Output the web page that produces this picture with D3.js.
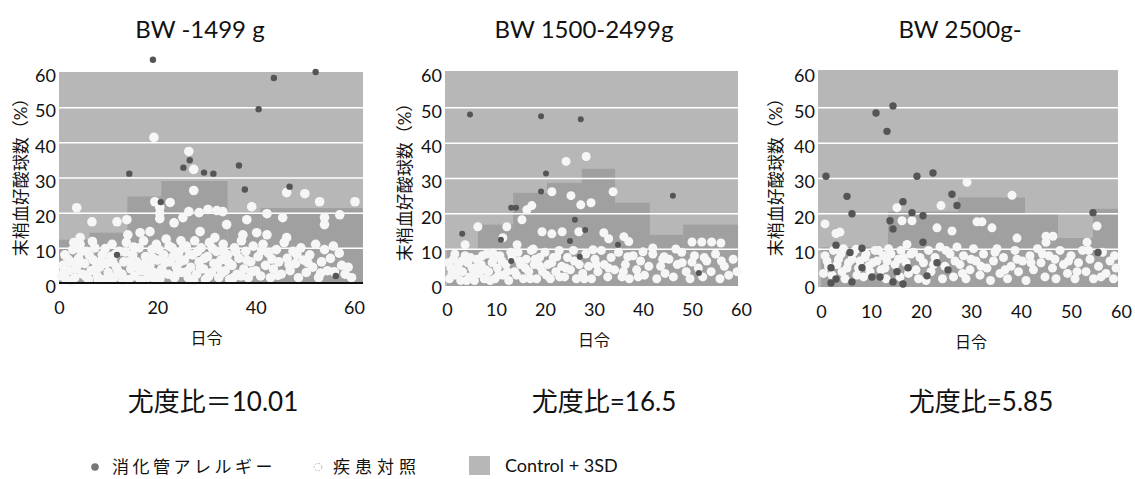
<!DOCTYPE html>
<html>
<head>
<meta charset="utf-8">
<title>末梢血好酸球数</title>
<script src="https://d3js.org/d3.v7.min.js"></script>
<style>
body { margin: 0; background: #fff; }
text { font-family: Lato, "Noto Sans CJK JP", sans-serif; fill: #111; }
.grid line { stroke: #fff; stroke-width: 1.5; }
.ax text { font-size: 18px; }
</style>
</head>
<body>
<div id="chart"></div>
<script>

// panel titles and likelihood ratios
var titles = ["BW -1499 g", "BW 1500-2499g", "BW 2500g-"];
var ratios = ["尤度比＝10.01", "尤度比=16.5", "尤度比=5.85"];
var yTicks = [0, 10, 20, 30, 40, 50, 60];
var xTicks1 = [0, 20, 40, 60];
var xTicks23 = [0, 10, 20, 30, 40, 50, 60];

// Control + 3SD bands: [start day, end day, %]
var band1 = [[0, 6.2, 12.3], [6.2, 13.9, 14.3], [13.9, 20.8, 24.6], [20.8, 34.3, 29], [34.3, 41, 20], [41, 61.8, 21.3]];
var band2 = [[0, 6.3, 9.8], [6.3, 13.5, 16.8], [13.5, 20.4, 25.8], [20.4, 27.5, 28.6], [27.5, 34.3, 32.6], [34.3, 41.4, 23], [41.4, 48.2, 13.9], [48.2, 59.4, 16.8]];
var band3 = [[0, 13.4, 10.4], [13.4, 27.4, 20.5], [27.4, 40.8, 24.5], [40.8, 47.4, 19.9], [47.4, 54.4, 13], [54.4, 59.4, 21.3]];

// 消化管アレルギー: [day, %]
var allergy1 = [[19.1, 63.5], [43.7, 58.3], [52.2, 60], [40.6, 49.4], [14.3, 31.1], [25.3, 32.8], [26.6, 34.9], [29.5, 31.4],
  [31.4, 31.1], [36.6, 33.4], [37.8, 26.6], [46.9, 27.4], [11.8, 8], [56.3, 2], [20.7, 23]];
var allergy2 = [[4.7, 48], [19.2, 47.5], [27.3, 46.6], [20.2, 31.3], [19.2, 26.2], [13.1, 21.6], [14.1, 21.6], [3.1, 14.2],
  [11, 12.5], [26.1, 18.2], [28.2, 15.3], [25.1, 12.2], [13.1, 6.5], [27.1, 7.7], [34.9, 11.1], [46.1, 25], [51.4, 3.1]];
var allergy3 = [[1, 30.5], [11, 48.4], [14.4, 50.4], [13.2, 43.2], [5.2, 24.8], [6.2, 19.9], [3, 11], [8.2, 10.1], [5.8, 8.9],
  [2, 4.6], [8.2, 4.6], [3, 1.4], [2, 0.3], [6.2, 0.6], [10.2, 2], [11.8, 2], [14.4, 0.6], [16.4, 0], [15.2, 3.5], [17.4, 4.6],
  [16.4, 23.3], [13.8, 17.9], [14.4, 15.6], [19.2, 30.5], [22.4, 31.4], [18.2, 20.2], [20.4, 19.3], [20.4, 11.8], [26.2, 25.4],
  [27.2, 22.2], [23.2, 6], [25.4, 4], [21.2, 2.3], [54.4, 20.2], [55.4, 8.9]];

// 疾患対照: [day, %]
var control1 = [[19.3, 41.4], [26.4, 37.4], [27.4, 32.3], [27.4, 26.3], [3.6, 21.4], [6.7, 17.4], [11.8, 17.4], [13.8, 18],
  [19.5, 23.1], [22.6, 22.9], [20.5, 21.5], [20.5, 19.8], [20.5, 18.3], [23.4, 17.1], [25.2, 18.6], [26.4, 20.3], [28.5, 20],
  [30.3, 20.9], [32.1, 20.6], [33.3, 20.3], [34.1, 16.6], [38.2, 18], [39.2, 21.7], [42.3, 19.7], [45.5, 18.6], [46.3, 25.7],
  [50, 25.4], [53, 23.1], [57.1, 19.4], [60.2, 23.1], [54, 18.6], [54, 16.6], [40.2, 14.3], [42.3, 13.7], [46.3, 12.9],
  [37.4, 13.7], [28.7, 14.6], [31.7, 12.9], [4.3, 12.9], [14, 13.7], [16.5, 14.3], [18.5, 14.6],
  [0.5, 2], [0.8, 5], [1.2, 8], [1.5, 1], [2, 3.5], [2.4, 6], [2.8, 9.5], [3.2, 1.5], [3.5, 4], [4, 7], [4.3, 11], [4.8, 2.5], [5.2, 5.5],
  [5.6, 9], [6, 1], [6.5, 3.5], [7, 6.5], [7.3, 10], [7.8, 2], [8.3, 4.5], [8.8, 8], [9.2, 1], [9.6, 5.5], [10, 3],
  [10.5, 7.5], [10.8, 11], [11.2, 1.5], [11.7, 4.5], [12.3, 9], [12.8, 2.5], [13.2, 6], [13.7, 11.5], [14.2, 1], [14.6, 4], [15, 8],
  [15.4, 2], [15.8, 6], [16.3, 10], [16.8, 3.5], [17.2, 12], [17.6, 7.5], [18, 1.5], [18.5, 5], [18.9, 9.5], [19.3, 3], [19.8, 11], [20, 6.5],
  [20.5, 1], [20.9, 4], [21.3, 8], [21.8, 12.5], [22.2, 2.5], [22.6, 6], [23, 10], [23.5, 1.5], [23.9, 4.5], [24.3, 8.5], [24.8, 12], [25, 3],
  [25.5, 6.5], [25.9, 10.5], [26.3, 1.5], [26.8, 4.5], [27.2, 8], [27.6, 12], [28, 2.5], [28.5, 6], [28.9, 10], [29.4, 4], [29.8, 1],
  [30.2, 7.5], [30.6, 11.5], [31, 3], [31.5, 5.5], [32, 9], [32.5, 1.5], [32.9, 6.5], [33.4, 11], [33.8, 3.5], [34.3, 8], [34.7, 1],
  [35.2, 5], [35.7, 10], [36.2, 2.5], [36.6, 7], [37.1, 12], [37.6, 4], [38, 9], [38.5, 1.5], [39, 6], [39.5, 10.5], [40, 3.5],
  [40.5, 7.5], [41, 2], [41.5, 11], [42, 5], [42.6, 8.5], [43, 1.5], [43.6, 4], [44.2, 9.5], [44.7, 6],
  [45.2, 2.5], [45.8, 11.5], [46.4, 7], [47, 3.5], [47.6, 9], [48.1, 5.5], [48.7, 1.5], [49.2, 10], [49.8, 6.5],
  [50.3, 3], [51, 8], [51.6, 4.5], [52.2, 11], [52.8, 1.5], [53.4, 6], [54, 9.5], [54.6, 3.5],
  [55.2, 7], [55.8, 10.5], [57.5, 5], [58.2, 2.5], [58.8, 4.5], [59.5, 1.5],
  [1, 3.2], [1.8, 6.8], [2.2, 0.5], [3, 11.5], [3.8, 5.2], [4.5, 9], [5.5, 1.8], [6.2, 7.8], [6.8, 11.8], [7.5, 4.2], [8, 0.8],
  [8.6, 6.2], [9.4, 9.8], [10.2, 1.2], [11, 5.8], [11.5, 8.2], [12, 3.2], [13, 0.6], [13.5, 8.8], [14.4, 6.2], [15.2, 10.2],
  [16, 4.5], [16.6, 0.8], [17.4, 5.5], [18.2, 3.5], [19, 7.2], [19.6, 0.8], [20.3, 9.5], [21, 2.5], [21.6, 5.8], [22.4, 10.5],
  [23.2, 7.5], [24, 2.8], [24.6, 6], [25.3, 10], [26, 3.2], [26.6, 8.2], [27.4, 0.6], [28.2, 9], [28.8, 4.2], [29.6, 7],
  [30.4, 1.8], [31.2, 9.8], [32.2, 4.5], [33.1, 2.8], [33.6, 8.6], [34.5, 5.8], [35.5, 1.5], [36, 8.8], [37, 2], [38.2, 6.5],
  [39.2, 3.2], [41.2, 9.2], [43.3, 6.8], [44.5, 2.2], [46.8, 5.2], [48.4, 8], [50.6, 5.8], [53.2, 2.8], [56, 3.2], [57, 8.5]];
var control2 = [[24.3, 34.7], [28.4, 36.1], [21.4, 26.1], [25.3, 25], [33.9, 26.1], [27.3, 22.4], [29.4, 23], [17.3, 22.2],
  [16.3, 21], [15.3, 18.2], [12.2, 16.2], [6.3, 16.2], [19.4, 14.8], [21.4, 14.2], [23.5, 14.8], [26.9, 14.8], [32, 14.5],
  [33, 12.8], [36.1, 13.4], [37.1, 12], [42, 10.2], [44.3, 7.7], [46.7, 9.9], [50, 11.9], [52, 11.9], [54, 11.9], [55.9, 11.6],
  [50, 6.2], [3.7, 11.1], [9.4, 8.8], [11.4, 13.1], [14.3, 11.1], [17.6, 9.9], [22.4, 7.7], [29.8, 9.7], [36.9, 7.7], [40, 9.1],
  [0.5, 1.5], [0.8, 4.5], [1.3, 7], [1.8, 2.5], [2.3, 5.5], [2.8, 1], [3.2, 3.5], [3.7, 8], [4.2, 6], [4.6, 2], [5.1, 4.5], [5.6, 1],
  [6, 7], [6.5, 3], [7, 5.5], [7.6, 1.5], [8.1, 8.5], [8.5, 3.5], [9.2, 6], [9.8, 1.5], [10.3, 4.5], [10.8, 8], [11.4, 2.5], [12, 5.5],
  [12.6, 1], [13.3, 7.5], [13.8, 3.5], [14.5, 9], [15, 5.5], [15.6, 1.5], [16.2, 7], [16.7, 3.5], [17.2, 9.5], [17.8, 5.5], [18.3, 1.5],
  [18.9, 7.5], [19.5, 3.5], [20, 9], [20.6, 5.5], [21.1, 1.5], [21.7, 7.5], [22.2, 3.5], [22.9, 9.5], [23.4, 5], [24, 2], [24.6, 7.5],
  [25.2, 4], [25.8, 9.5], [26.4, 1.5], [27, 5.5], [27.7, 3], [28.3, 8.5], [28.9, 5], [29.5, 1.5], [30.2, 7], [30.8, 3.5], [31.5, 9.5],
  [32.1, 5.5], [32.8, 2], [33.5, 7.5], [34.2, 4], [35, 9], [35.7, 2], [36.4, 5.5], [37.2, 1.5], [38, 8], [38.7, 4], [39.5, 6.5],
  [40.3, 2.5], [41.2, 5], [42, 8.5], [42.8, 1.5], [43.6, 5], [44.5, 3], [45.3, 7], [46.2, 2], [47, 5.5], [47.9, 9], [48.8, 3.5],
  [49.6, 1.5], [50.5, 8], [51.3, 4.5], [52.2, 2], [53, 6.5], [53.9, 3.5], [54.8, 8.5], [55.7, 1.5], [56.6, 5], [57.5, 2.5],
  [58.4, 7], [59.2, 3.5],
  [0.3, 6], [1, 3], [1.6, 8.5], [2.5, 4], [3, 6.5], [4, 1], [4.8, 7.5], [5.5, 3], [6.3, 5], [7.2, 8], [7.9, 4], [8.8, 1], [9.5, 7],
  [10.5, 2.5], [11.2, 6.5], [12.3, 3.5], [13, 9], [14.2, 2.5], [14.8, 6.5], [16, 4.5], [17, 1.5], [18, 7], [19, 5], [20.3, 2.5],
  [21.4, 6], [23, 2], [24.3, 4.5], [26, 6.5], [28, 1.5], [30.5, 5.5], [33, 4.5], [36, 3.5], [39, 2], [44, 7], [48, 6], [52.5, 7.5], [56, 6.5]];
var control3 = [[29.2, 28.8], [38.2, 25.1], [24, 22.2], [15.2, 21.6], [16.2, 17.9], [18.2, 17.9], [0.8, 17], [3.8, 14.7], [3, 14.3],
  [23.2, 15.9], [26.2, 15], [31.2, 17.6], [32.2, 17.6], [34.2, 15.9], [39.2, 13], [45, 13.5], [46.4, 13.5], [45, 11.8], [53.2, 11.8],
  [55.2, 16.4], [17.2, 11.2],
  [0.8, 8], [1.5, 5], [2.5, 9.5], [3.5, 7], [4.5, 10], [4.2, 3.5], [5.5, 6], [6.5, 9], [7.2, 2.5], [7.8, 6.5], [9, 8.5], [9.5, 5],
  [10.8, 9.5], [11.2, 6.5], [12.5, 8], [12.8, 4.5], [13.5, 10], [15.5, 7], [16, 9.5], [17, 6], [18.5, 9], [19, 4], [19.5, 1.5],
  [20.5, 6], [21.5, 9.5], [22, 3.5], [22.8, 7.5], [23.8, 10.5], [24.3, 1.5], [24.8, 5], [25.8, 8.5], [26.5, 2], [27.2, 10.5],
  [27.8, 5.5], [28.5, 8], [29, 1.5], [29.8, 4], [30.5, 10], [31, 6.5], [31.8, 2.5], [32.5, 8.5], [33.2, 4.5], [33.9, 1], [34.5, 6.5],
  [35.2, 10], [35.8, 3], [36.5, 7.5], [37.3, 1.5], [38, 5], [38.8, 9.5], [39.5, 3.5], [40.3, 6.5], [41, 1], [41.8, 8], [42.5, 4],
  [43.3, 10], [44, 6], [44.8, 2], [45.6, 8], [46.3, 4.5], [47, 1.5], [47.8, 9.5], [48.5, 5.5], [49.3, 3], [50, 8], [50.8, 1.5],
  [51.5, 6], [52.3, 9.5], [53, 3.5], [53.8, 7], [54.5, 1.5], [55.5, 5], [56.3, 9], [57, 3], [57.8, 6.5], [58.5, 1.5], [59, 4.5],
  [0.5, 3], [1.2, 6.5], [2.2, 2.5], [3.2, 5.5], [4, 8.5], [4.8, 1.5], [5.2, 4.5], [6.2, 7], [7, 9.8], [7.5, 4.5], [8.5, 2], [8.8, 7.5],
  [9.8, 3.5], [10.3, 6], [11.5, 9.5], [12, 4], [13, 1.5], [13.2, 6.5], [14, 8.5], [14.8, 5.5], [15.8, 2], [16.5, 7.5], [17.5, 3],
  [18, 8.5], [19.8, 7.5], [21, 1], [22.5, 5.5], [25, 9.5], [26.8, 6.5], [28.3, 3], [30, 7], [32, 5], [34.8, 9], [36.8, 4], [39.2, 7],
  [42, 6], [44.3, 8.5], [46.8, 7], [49.5, 6.5], [51.2, 3.5], [53.5, 9.5], [56, 2], [58.7, 8]];

var bg = "#b7b7b7", barColor = "#a0a0a0", darkDot = "#555", lightDot = "#f6f6f6";

// layout per panel (pixel positions of day 0 / day 60 and of the plot box)
var panels = [
  {title: titles[0], ratio: ratios[0], band: band1, allergy: allergy1, control: control1, xt: xTicks1,
   x0: 59, x60: 354, left: 59, right: 363, y0: 283, y60: 72, top: 72, bottom: 283, baseLine: true,
   cx: 200, ylab: 21, ylabY: 173, xlabY: 344, xtickY: 314, rw: 4.8, rd: 3.2},
  {title: titles[1], ratio: ratios[1], band: band2, allergy: allergy2, control: control2, xt: xTicks23,
   x0: 447, x60: 741, left: 445, right: 738, y0: 284, y60: 72, top: 71, bottom: 286, baseLine: false,
   cx: 584, ylab: 405, ylabY: 178, xlabY: 346, xtickY: 316, rw: 4.5, rd: 3},
  {title: titles[2], ratio: ratios[2], band: band3, allergy: allergy3, control: control3, xt: xTicks23,
   x0: 821, x60: 1121, left: 818, right: 1118, y0: 284, y60: 72, top: 70, bottom: 287, baseLine: false,
   cx: 960, ylab: 776, ylabY: 173, xlabY: 348, xtickY: 318, rw: 4.5, rd: 3.7}
];
var ratioX = [213, 604, 981];

var svg = d3.select("#chart").append("svg")
    .attr("width", 1135)
    .attr("height", 479);

panels.forEach(function(p, i) {
  var x = d3.scaleLinear().domain([0, 60]).range([p.x0, p.x60]);
  var y = d3.scaleLinear().domain([0, 60]).range([p.y0, p.y60]);
  var g = svg.append("g");

  g.append("rect")
      .attr("x", p.left).attr("y", p.top)
      .attr("width", p.right - p.left).attr("height", p.bottom - p.top)
      .attr("fill", bg);

  g.selectAll(".band")
      .data(p.band)
    .enter().append("rect")
      .attr("x", function(d) { return x(d[0]); })
      .attr("y", function(d) { return y(d[2]); })
      .attr("width", function(d) { return x(d[1]) - x(d[0]); })
      .attr("height", function(d) { return p.bottom - y(d[2]); })
      .attr("fill", barColor);

  // white grid lines
  g.append("g")
      .attr("class", "grid")
      .attr("transform", "translate(" + p.left + ",0)")
      .call(d3.axisRight(y).tickValues([10, 20, 30, 40, 50]).tickSize(p.right - p.left).tickFormat(""))
      .call(function(s) { s.select(".domain").remove(); });

  g.selectAll(".ctl")
      .data(p.control)
    .enter().append("circle")
      .attr("cx", function(d) { return x(d[0]); })
      .attr("cy", function(d) { return y(d[1]); })
      .attr("r", p.rw)
      .attr("fill", lightDot);

  g.selectAll(".alg")
      .data(p.allergy)
    .enter().append("circle")
      .attr("cx", function(d) { return x(d[0]); })
      .attr("cy", function(d) { return y(d[1]); })
      .attr("r", p.rd)
      .attr("fill", darkDot);

  if (p.baseLine) {
    g.append("line")
        .attr("x1", p.left).attr("x2", p.right)
        .attr("y1", p.y0).attr("y2", p.y0)
        .attr("stroke", "#111").attr("stroke-width", 2);
  }

  // y axis labels
  g.append("g")
      .attr("class", "ax")
      .attr("transform", "translate(" + (p.left - 1) + ",4)")
      .call(d3.axisLeft(y).tickValues(yTicks).tickSize(0).tickPadding(2))
      .call(function(s) { s.select(".domain").remove(); });

  // x axis labels
  g.append("g")
      .attr("class", "ax")
      .attr("transform", "translate(0," + (p.xtickY - 13) + ")")
      .call(d3.axisBottom(x).tickValues(p.xt).tickSize(0).tickPadding(0))
      .call(function(s) { s.select(".domain").remove(); });

  g.append("text")
      .attr("x", (p.x0 + p.x60) / 2)
      .attr("y", p.xlabY)
      .attr("text-anchor", "middle")
      .style("font-size", "16px")
      .text("日令");

  g.append("text")
      .attr("transform", "translate(" + (p.ylab + 6) + "," + p.ylabY + ") rotate(-90)")
      .attr("text-anchor", "middle")
      .style("font-size", "17px")
      .text("末梢血好酸球数（%）");

  svg.append("text")
      .attr("x", p.cx)
      .attr("y", 38)
      .attr("text-anchor", "middle")
      .style("font-size", "24px")
      .text(p.title);

  svg.append("text")
      .attr("x", ratioX[i])
      .attr("y", 411)
      .attr("text-anchor", "middle")
      .style("font-size", "26px")
      .text(p.ratio);
});

// legend
var lg = svg.append("g");
lg.append("circle").attr("cx", 95).attr("cy", 467).attr("r", 3.8).attr("fill", "#777");
lg.append("text").attr("x", 112).attr("y", 473).style("font-size", "17px").style("letter-spacing", "3.5px").text("消化管アレルギー");
lg.append("circle").attr("cx", 318).attr("cy", 467).attr("r", 3.8)
    .attr("fill", "#fff").attr("stroke", "#bbb").attr("stroke-dasharray", "2,1.5");
lg.append("text").attr("x", 333).attr("y", 473).style("font-size", "17px").style("letter-spacing", "5px").text("疾患対照");
lg.append("rect").attr("x", 469).attr("y", 456).attr("width", 21).attr("height", 19).attr("fill", bg);
lg.append("text").attr("x", 505).attr("y", 472).style("font-size", "18px").text("Control + 3SD");

</script>
</body>
</html>
